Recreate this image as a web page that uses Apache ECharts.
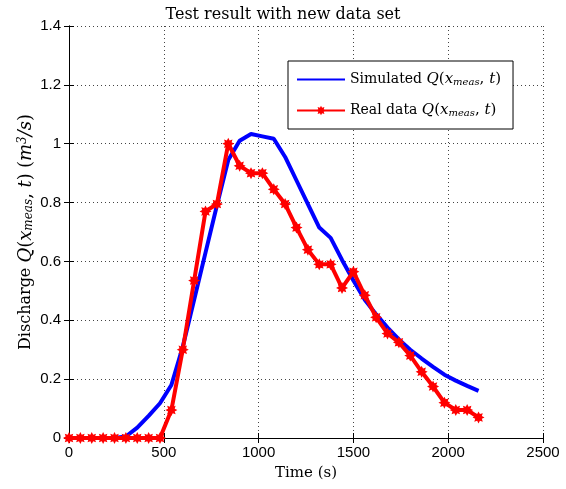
<!DOCTYPE html>
<html>
<head>
<meta charset="utf-8">
<script src="https://cdn.jsdelivr.net/npm/echarts@6/dist/echarts.min.js"></script>
<style>
  html, body { margin: 0; padding: 0; background: #fff; }
  #chart { width: 566px; height: 489px; }
</style>
</head>
<body>
<div id="chart"></div>
<script>
// time samples (s)
var times = [0, 60, 120, 180, 240, 300, 360, 420, 480, 540, 600, 660, 720, 780, 840, 900, 960, 1020,
  1080, 1140, 1200, 1260, 1320, 1380, 1440, 1500, 1560, 1620, 1680, 1740, 1800, 1860, 1920, 1980,
  2040, 2100, 2160];
// simulated discharge
var simulated = [0, 0, 0, 0, 0, 0.005, 0.035, 0.075, 0.118, 0.18, 0.31, 0.47, 0.63, 0.79, 0.945, 1.01,
  1.033, 1.025, 1.017, 0.955, 0.875, 0.795, 0.715, 0.68, 0.605, 0.535, 0.47, 0.42, 0.375, 0.335,
  0.3, 0.27, 0.242, 0.215, 0.195, 0.177, 0.16];
// measured discharge
var realData = [0, 0, 0, 0, 0, 0, 0, 0, 0, 0.095, 0.30, 0.535, 0.77, 0.795, 1.0, 0.925, 0.9, 0.9,
  0.845, 0.795, 0.715, 0.64, 0.59, 0.59, 0.51, 0.565, 0.485, 0.41, 0.355, 0.325, 0.28, 0.225,
  0.175, 0.12, 0.095, 0.095, 0.07];

var serif = 'DejaVu Serif';
var sans = 'Liberation Sans';

function pairs(vals) {
  return times.map(function (t, i) { return [t, vals[i]]; });
}

// matlab style '*' marker
var star = 'path://M20 10 L15.54 12.3 L17.07 17.07 L12.3 15.54 L10 20 L7.7 15.54 L2.93 17.07 L4.46 12.3 L0 10 L4.46 7.7 L2.93 2.93 L7.7 4.46 L10 0 L12.3 4.46 L17.07 2.93 L15.54 7.7 Z';

function mathStyles(size, small) {
  return {
    i: { fontFamily: serif, fontStyle: 'italic', fontSize: size, color: '#000' },
    n: { fontFamily: serif, fontSize: size, color: '#000' },
    s: { fontFamily: serif, fontStyle: 'italic', fontSize: small, color: '#000', verticalAlign: 'bottom', lineHeight: small },
    p: { fontFamily: serif, fontStyle: 'italic', fontSize: small, color: '#000', verticalAlign: 'top', lineHeight: small }
  };
}

var dotted = { show: true, lineStyle: { color: '#444', type: [1, 3], width: 1 } };
var plain = function (v) { return String(v); };

var chart = echarts.init(document.getElementById('chart'));
chart.setOption({
  animation: false,
  backgroundColor: '#fff',
  title: {
    text: 'Test result with new data set',
    left: 'center',
    top: 2,
    textStyle: { fontFamily: serif, fontSize: 16, fontWeight: 'normal', color: '#000' }
  },
  grid: { left: 69, right: 23, top: 26, bottom: 51 },
  legend: {
    orient: 'vertical',
    left: 288,
    top: 61,
    padding: [11, 12, 11, 8],
    itemGap: 16,
    itemWidth: 48,
    itemHeight: 12,
    backgroundColor: '#fff',
    borderColor: '#000',
    borderWidth: 1,
    borderRadius: 0,
    textStyle: { fontFamily: serif, fontSize: 14, color: '#000', rich: mathStyles(15, 10) },
    formatter: function (name) {
      if (name === 'sim') return 'Simulated {i|Q}{n|(}{i|x}{s|meas}{n|, }{i|t}{n|)}';
      return 'Real data {i|Q}{n|(}{i|x}{s|meas}{n|, }{i|t}{n|)}';
    },
    data: [{ name: 'sim', itemStyle: { opacity: 0 } }, 'real']
  },
  xAxis: [{
    type: 'value', min: 0, max: 2500, interval: 500,
    name: 'Time (s)', nameLocation: 'middle', nameGap: 28,
    nameTextStyle: { fontFamily: serif, fontSize: 15, color: '#000' },
    axisLine: { lineStyle: { color: '#000', width: 1 } },
    axisTick: { inside: true, length: 5, lineStyle: { color: '#000' } },
    axisLabel: { fontFamily: sans, fontSize: 15, color: '#000', margin: 7, formatter: plain },
    splitLine: dotted
  }, {
    type: 'value', min: 0, max: 2500, interval: 500, position: 'top',
    axisLine: { lineStyle: { color: '#000', width: 1 } },
    axisTick: { inside: true, length: 5, lineStyle: { color: '#000' } },
    axisLabel: { show: false },
    splitLine: { show: false }
  }],
  yAxis: [{
    type: 'value', min: 0, max: 1.4, interval: 0.2,
    name: 'Discharge {i|Q}{n|(}{i|x}{s|meas}{n|, }{i|t}{n|)} {n|(}{i|m}{p|3}{i|/s}{n|)}',
    nameLocation: 'middle', nameGap: 34, nameRotate: 90, nameMoveOverlap: false,
    nameTextStyle: { fontFamily: serif, fontSize: 16, color: '#000', rich: mathStyles(18, 12) },
    axisLine: { lineStyle: { color: '#000', width: 1 } },
    axisTick: { inside: true, length: 5, lineStyle: { color: '#000' } },
    axisLabel: { fontFamily: sans, fontSize: 15, color: '#000', margin: 8, formatter: plain },
    splitLine: dotted
  }, {
    type: 'value', min: 0, max: 1.4, interval: 0.2, position: 'right',
    axisLine: { lineStyle: { color: '#000', width: 1 } },
    axisTick: { inside: true, length: 5, lineStyle: { color: '#000' } },
    axisLabel: { show: false },
    splitLine: { show: false }
  }],
  series: [{
    name: 'sim',
    type: 'line',
    data: pairs(simulated),
    symbol: 'none',
    lineStyle: { color: '#0000ff', width: 4 },
    itemStyle: { color: '#0000ff' },
    z: 3
  }, {
    name: 'real',
    type: 'line',
    data: pairs(realData),
    symbol: star,
    symbolSize: 12,
    lineStyle: { color: '#ff0000', width: 4 },
    itemStyle: { color: '#ff0000' },
    z: 4
  }]
});
</script>
</body>
</html>
